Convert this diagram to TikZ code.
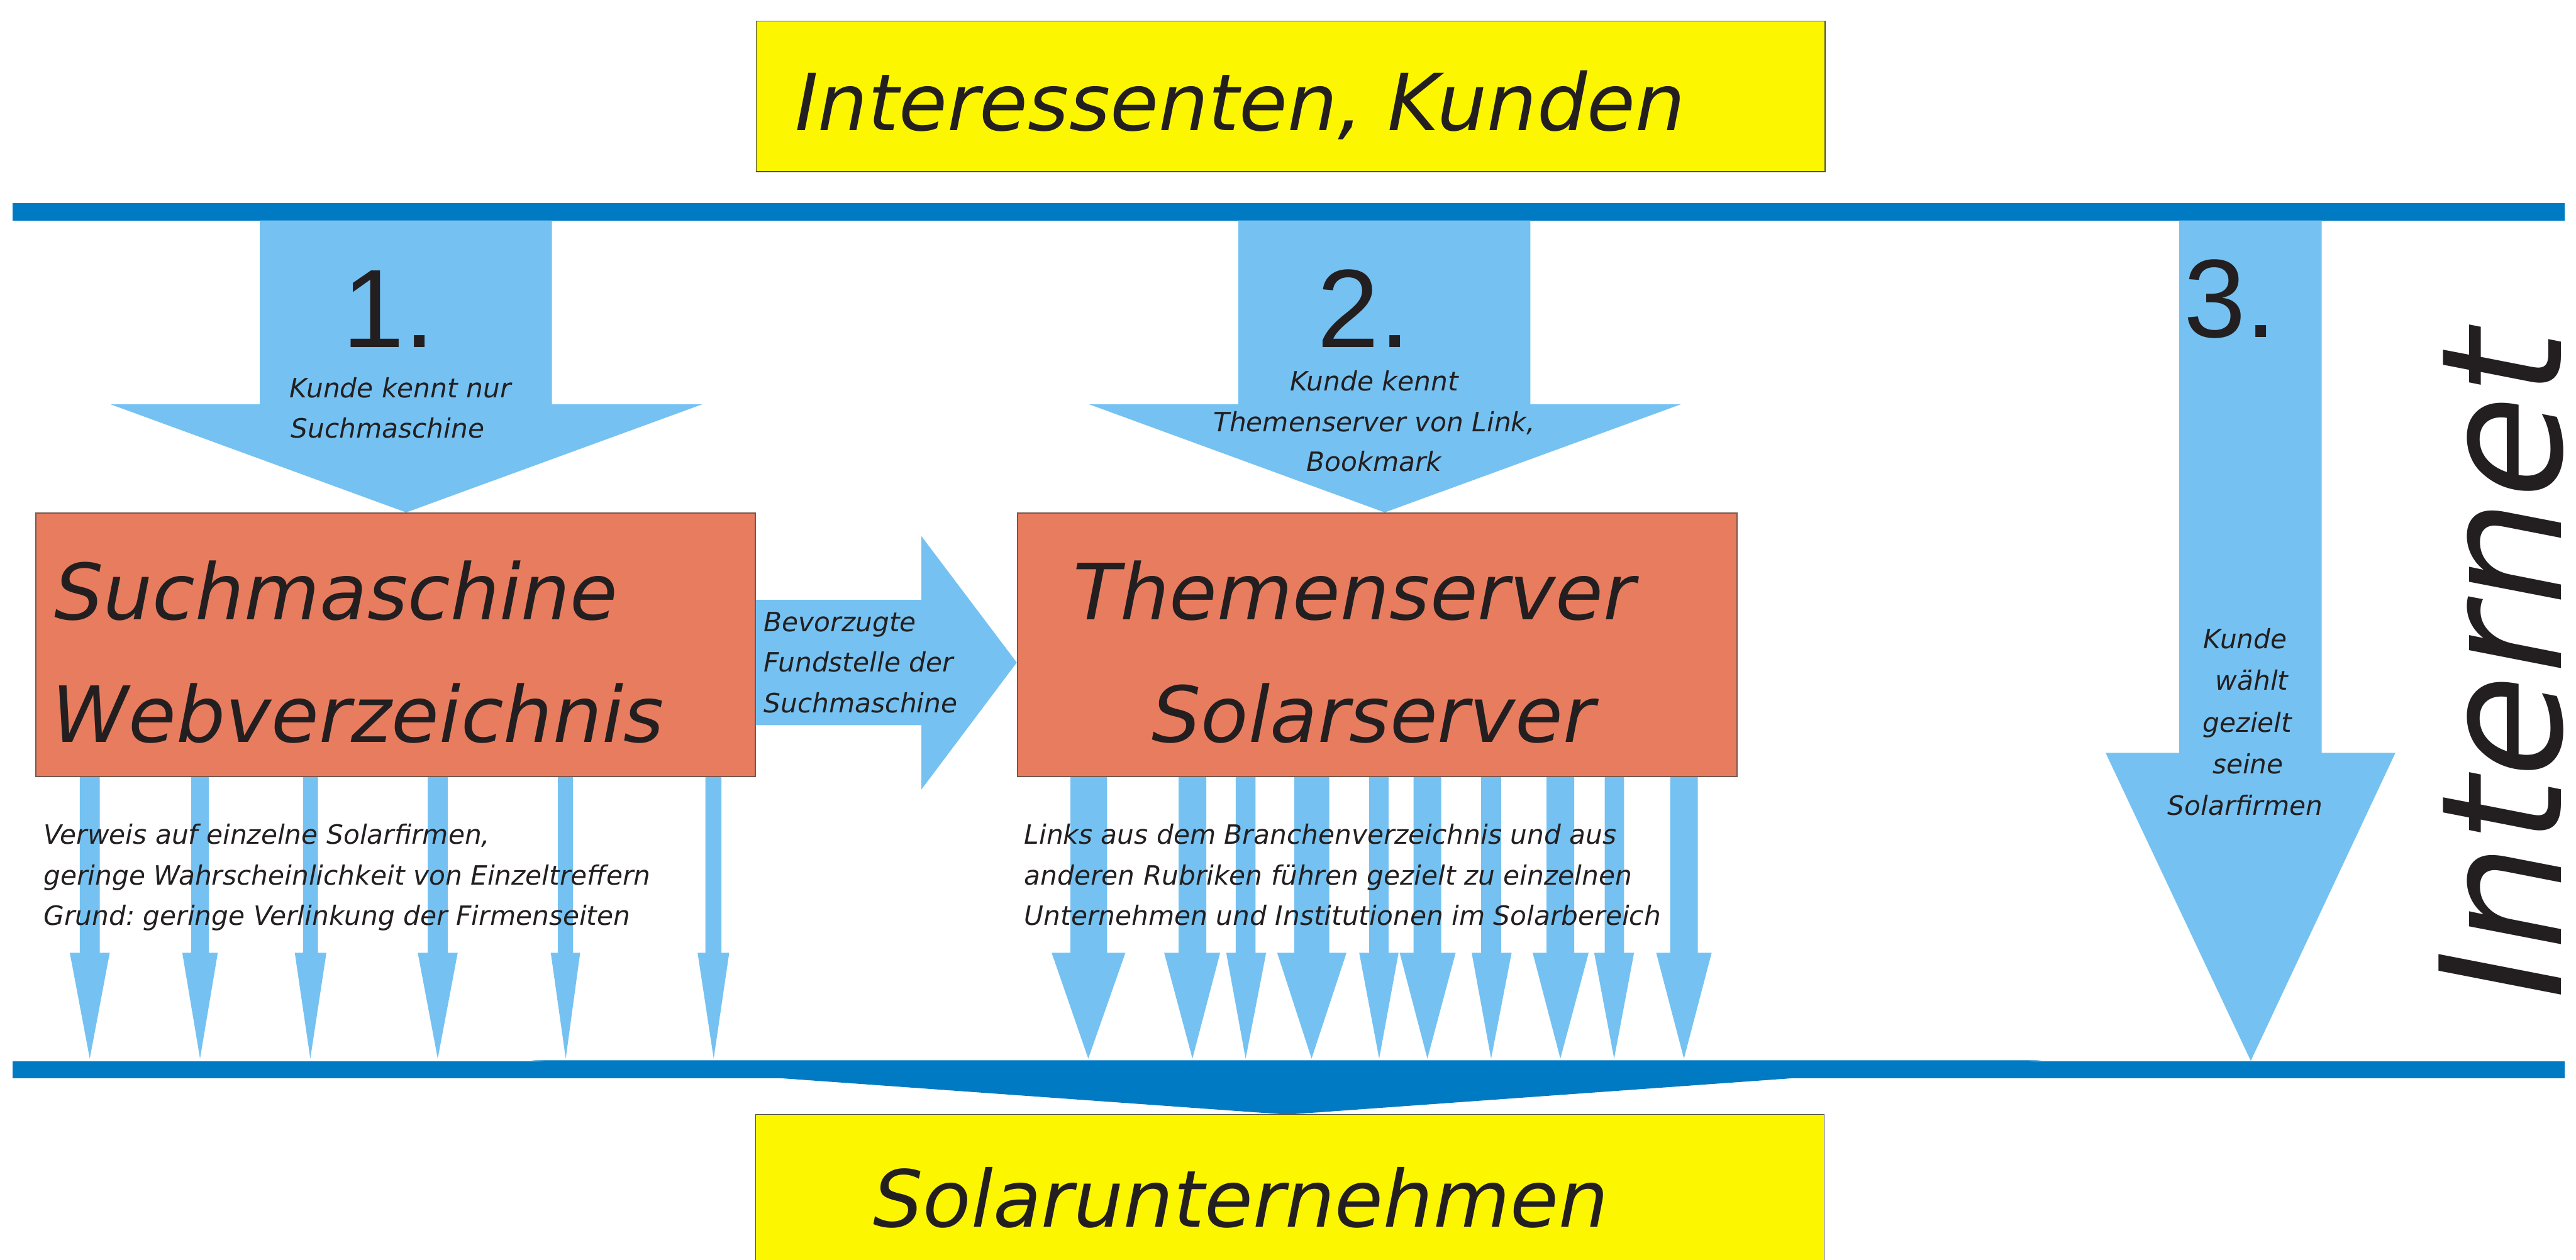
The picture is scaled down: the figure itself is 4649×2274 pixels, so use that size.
\documentclass[tikz,border=0pt]{standalone}
\usepackage{fontspec}
\setmainfont{DejaVu Sans}
\newfontfamily\numfont{Liberation Sans}
\frenchspacing
\definecolor{barblue}{RGB}{0,122,195}
\definecolor{lightblue}{RGB}{117,194,242}
\definecolor{yel}{RGB}{252,247,0}
\definecolor{boxred}{RGB}{232,124,95}
\definecolor{boxline}{RGB}{120,88,78}
\definecolor{txt}{RGB}{35,31,32}
\tikzset{
  lb/.style={fill=lightblue},
  barstyle/.style={fill=barblue},
  ybox/.style={draw=black!70, line width=0.4pt, fill=yel, inner sep=0pt},
  rbox/.style={draw=boxline, line width=0.7pt, fill=boxred, inner sep=0pt},
  big/.style={font=\fontsize{40.4}{48}\selectfont\itshape, text=txt, inner sep=0pt, anchor=base west},
  boxtxt/.style={font=\fontsize{39.8}{48}\selectfont\itshape, text=txt, inner sep=0pt, anchor=base west},
  small/.style={font=\fontsize{13.66}{16}\selectfont\itshape, text=txt, inner sep=0pt},
  num/.style={font=\fontsize{57.2}{60}\selectfont\numfont, text=txt, inner sep=0pt, anchor=base west},
  nettxt/.style={font=\fontsize{86.2}{90}\selectfont\itshape, text=txt, inner sep=0pt, anchor=base, rotate=90},
}
\newcommand\darrow[5]{%
  \fill[lb] (#1,1400) -- (#2,1400) -- (#2,1720) -- (#4,1720) -- (#5,1911) -- (#3,1720) -- (#1,1720) -- cycle;}
\begin{document}
\begin{tikzpicture}[x=0.01cm,y=-0.01cm]
\useasboundingbox (0,0) rectangle (4649,2274);
\fill[white] (0,0) rectangle (4649,2274);

% bars
\fill[barstyle] (23,367) rectangle (4629,398);
\fill[barstyle] (959,1914) -- (3684,1914) -- (2323,2012) -- cycle;
\fill[barstyle] (23,1916) rectangle (4629,1947);

% yellow boxes
\node[ybox, anchor=north west, minimum width=19.28cm, minimum height=2.72cm] (kunden) at (1364,37) {};
\fill[yel] (1364,2012) rectangle (3292,2290);
\draw[black!70, line width=0.4pt] (1364,2290) -- (1364,2012) -- (3292,2012) -- (3292,2290);
\coordinate (firmen) at (2328,2012);

% big arrows from top
\fill[lb] (469,398) -- (996,398) -- (996,730) -- (1267,730) -- (733,925) -- (200,730) -- (469,730) -- cycle;
\fill[lb] (2235,398) -- (2762,398) -- (2762,730) -- (3033,730) -- (2499,925) -- (1966,730) -- (2235,730) -- cycle;
\fill[lb] (3933,398) -- (4190,398) -- (4190,1359) -- (4323,1359) -- (4062,1915) -- (3800,1359) -- (3933,1359) -- cycle;
% middle arrow
\fill[lb] (1361,1083) -- (1663,1083) -- (1663,968) -- (1835,1196) -- (1663,1425) -- (1663,1309) -- (1361,1309) -- cycle;

% small arrows, left group
\darrow{144}{180}{126}{198}{162}
\darrow{345}{377}{329}{393}{361}
\darrow{547}{574}{532}{589}{560}
\darrow{772}{808}{754}{826}{790}
\darrow{1007}{1034}{994}{1047}{1021}
\darrow{1273}{1302}{1259}{1316}{1288}
% small arrows, right group
\darrow{1932}{1998}{1898}{2031}{1964}
\darrow{2127}{2177}{2101}{2202}{2152}
\darrow{2230}{2266}{2213}{2285}{2248}
\darrow{2336}{2399}{2305}{2430}{2367}
\darrow{2471}{2506}{2453}{2524}{2489}
\darrow{2551}{2601}{2526}{2627}{2576}
\darrow{2673}{2709}{2656}{2728}{2691}
\darrow{2791}{2841}{2766}{2867}{2816}
\darrow{2896}{2931}{2877}{2949}{2913}
\darrow{3014}{3064}{2989}{3089}{3039}

% red boxes
\node[rbox, anchor=north west, minimum width=12.98cm, minimum height=4.75cm] (such) at (63,925) {};
\node[rbox, anchor=north west, minimum width=12.98cm, minimum height=4.75cm] (themen) at (1835,925) {};

% texts
\node[big] (t-kunden) at (1434,235) {Interessenten, Kunden};
\node[big] (t-firmen) at (1575,2215) {Solarunternehmen};
\node[boxtxt] (t-such1) at (97,1118) {Suchmaschine};
\node[boxtxt] (t-such2) at (93,1340) {Webverzeichnis};
\node[boxtxt] (t-them1) at (1936,1118) {Themenserver};
\node[boxtxt] (t-them2) at (2078,1340) {Solarserver};

\node[num] (n1) at (617,627) {1.};
\node[num] (n2) at (2377,627) {2.};
\node[num] (n3) at (3940,609) {3.};

\node[small, anchor=base west] (a1a) at (522,718) {Kunde kennt nur};
\node[small, anchor=base west] (a1b) at (524,791) {Suchmaschine};
\node[small, anchor=base] (a2a) at (2480,705) {Kunde kennt};
\node[small, anchor=base] (a2b) at (2480,779) {Themenserver von Link,};
\node[small, anchor=base] (a2c) at (2480,851) {Bookmark};
\node[small, anchor=base] (a3a) at (4052,1171) {Kunde};
\node[small, anchor=base] (a3b) at (4064,1246) {wählt};
\node[small, anchor=base] (a3c) at (4056,1322) {gezielt};
\node[small, anchor=base] (a3d) at (4057,1397) {seine};
\node[small, anchor=base] (a3e) at (4052,1471) {Solarfirmen};

\node[small, anchor=base west] (m1) at (1378,1140) {Bevorzugte};
\node[small, anchor=base west] (m2) at (1378,1213) {Fundstelle der};
\node[small, anchor=base west] (m3) at (1378,1287) {Suchmaschine};

\node[small, anchor=base west] (l1) at (78,1524) {Verweis auf einzelne Solarfirmen,};
\node[small, anchor=base west] (l2) at (78,1597) {geringe Wahrscheinlichkeit von Einzeltreffern};
\node[small, anchor=base west] (l3) at (78,1670) {Grund: geringe Verlinkung der Firmenseiten};

\node[small, anchor=base west] (r1) at (1848,1524) {Links aus dem Branchenverzeichnis und aus};
\node[small, anchor=base west] (r2) at (1848,1597) {anderen Rubriken führen gezielt zu einzelnen};
\node[small, anchor=base west] (r3) at (1848,1670) {Unternehmen und Institutionen im Solarbereich};

\node[nettxt] (internet) at (4622,1200) {Internet};
\end{tikzpicture}
\end{document}
